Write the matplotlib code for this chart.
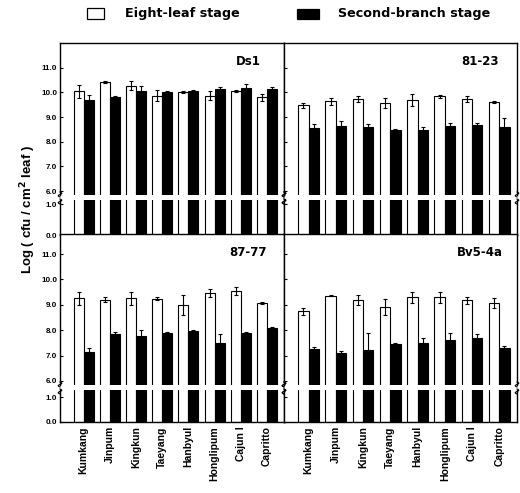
import numpy as np
import matplotlib.pyplot as plt

plt.rcParams['font.family'] = ['Liberation Sans', 'DejaVu Sans']
plt.rcParams['font.weight'] = 'bold'

cultivars = ["Kumkang", "Jinpum", "Kingkun", "Taeyang", "Hanbyul",
             "Honglipum", "Cajun I", "Capritto"]
strains = ["Ds1", "81-23", "87-77", "Bv5-4a"]

# eight-leaf stage (white) and second-branch stage (black), log cfu / cm2
ds1_eight = [10.04, 10.42, 10.27, 9.87, 10.01, 9.87, 10.04, 9.80]
ds1_eight_err = [0.25, 0.03, 0.18, 0.22, 0.04, 0.18, 0.04, 0.15]
ds1_second = [9.68, 9.82, 10.04, 10.01, 10.05, 10.13, 10.18, 10.13]
ds1_second_err = [0.22, 0.03, 0.20, 0.04, 0.04, 0.08, 0.15, 0.10]

s8123_eight = [9.47, 9.64, 9.73, 9.57, 9.70, 9.84, 9.73, 9.60]
s8123_eight_err = [0.10, 0.15, 0.12, 0.20, 0.25, 0.05, 0.12, 0.05]
s8123_second = [8.55, 8.65, 8.58, 8.49, 8.46, 8.65, 8.66, 8.60]
s8123_second_err = [0.15, 0.20, 0.12, 0.02, 0.15, 0.12, 0.08, 0.35]

s8777_eight = [9.26, 9.20, 9.26, 9.24, 8.99, 9.46, 9.55, 9.07]
s8777_eight_err = [0.25, 0.10, 0.25, 0.05, 0.40, 0.15, 0.15, 0.05]
s8777_second = [7.13, 7.84, 7.79, 7.90, 7.97, 7.49, 7.88, 8.08]
s8777_second_err = [0.15, 0.08, 0.20, 0.03, 0.03, 0.35, 0.03, 0.03]

bv54a_eight = [8.74, 9.36, 9.20, 8.91, 9.29, 9.29, 9.17, 9.07]
bv54a_eight_err = [0.15, 0.02, 0.20, 0.30, 0.20, 0.20, 0.12, 0.20]
bv54a_second = [7.25, 7.09, 7.22, 7.46, 7.51, 7.62, 7.68, 7.29]
bv54a_second_err = [0.08, 0.10, 0.65, 0.04, 0.20, 0.25, 0.15, 0.07]

data = {
    "Ds1": (ds1_eight, ds1_eight_err, ds1_second, ds1_second_err),
    "81-23": (s8123_eight, s8123_eight_err, s8123_second, s8123_second_err),
    "87-77": (s8777_eight, s8777_eight_err, s8777_second, s8777_second_err),
    "Bv5-4a": (bv54a_eight, bv54a_eight_err, bv54a_second, bv54a_second_err),
}

W, H = 520, 493
fig = plt.figure(figsize=(W / 100, H / 100), dpi=100)


def fbox(x0, x1, y0, y1):
    # pixel box (top-left origin) -> figure fraction rect
    return [x0 / W, 1 - y1 / H, (x1 - x0) / W, (y1 - y0) / H]


cols = [(60, 284), (284, 517)]
# (upper seg px, upper ylim, lower seg px, lower ylim)
rows = [((43, 195), (5.84, 12.0), (200, 235), (0, 1.13)),
        ((234, 385), (5.84, 11.79), (390, 422), (0, 1.28))]

x = np.arange(len(cultivars))
bw = 0.38
tick_font = dict(fontsize=5.8, fontweight='bold')


def squiggle(xp, yp):
    t = np.linspace(0, 1, 20)
    xs = xp + 1.8 * np.sin(t * 2 * np.pi)
    ys = yp - 2 + 5 * t
    fig.add_artist(plt.Line2D(xs / W, 1 - ys / H, color='black', lw=0.8))


for k, name in enumerate(strains):
    r, c = divmod(k, 2)
    (uy0, uy1), ulim, (ly0, ly1), llim = rows[r]
    cx0, cx1 = cols[c]
    eight, eight_err, second, second_err = data[name]
    ax_u = fig.add_axes(fbox(cx0, cx1, uy0, uy1))
    ax_l = fig.add_axes(fbox(cx0, cx1, ly0, ly1))
    for ax, lim in ((ax_u, ulim), (ax_l, llim)):
        ax.bar(x - bw / 2, eight, bw, color='white', edgecolor='black', linewidth=0.8)
        ax.bar(x + bw / 2, second, bw, color='black', edgecolor='black', linewidth=0.8)
        ax.errorbar(x - bw / 2, eight, yerr=eight_err, fmt='none', ecolor='black',
                    elinewidth=0.8, capsize=1.6, capthick=0.8)
        ax.errorbar(x + bw / 2, second, yerr=second_err, fmt='none', ecolor='black',
                    elinewidth=0.8, capsize=1.6, capthick=0.8)
        ax.set_xlim(-0.9, 7.65)
        ax.set_ylim(*lim)
        ax.tick_params(axis='y', direction='in', length=2.5, width=0.8, pad=2)
        ax.tick_params(axis='x', length=0)
        for s in ax.spines.values():
            s.set_linewidth(1.0)
    ax_u.spines['bottom'].set_visible(False)
    ax_l.spines['top'].set_visible(False)
    ax_u.set_xticks([])
    ax_u.set_yticks([6, 7, 8, 9, 10, 11])
    ax_l.set_yticks([0, 1])
    if c == 0:
        ax_u.set_yticklabels(["6.0", "7.0", "8.0", "9.0", "10.0", "11.0"], **tick_font)
        ax_l.set_yticklabels(["0.0", "1.0"], **tick_font)
    else:
        ax_u.set_yticklabels([])
        ax_l.set_yticklabels([])
    if r == 1:
        ax_l.set_xticks(x)
        ax_l.set_xticklabels(cultivars, rotation=90, fontsize=7.5, fontweight='bold')
        ax_l.tick_params(axis='x', pad=3)
    else:
        ax_l.set_xticks([])
    ax_u.text(0.84, 0.88, name, transform=ax_u.transAxes, ha='center', va='center',
              fontsize=8.5, fontweight='bold', family='DejaVu Sans')
    for xp in (cx0, cx1):
        squiggle(xp, uy1 - 1)
        squiggle(xp, ly0 + 1)

# y label
fig.text(28 / W, 1 - 210 / H, "Log ( cfu / cm$^{\\mathbf{2}}$ leaf )", rotation=90,
         ha='center', va='center', fontsize=9.5, fontweight='bold')

# legend
fig.patches.append(plt.Rectangle((87 / W, 1 - 19 / H), 17 / W, 11 / H, facecolor='white',
                                 edgecolor='black', lw=0.9, transform=fig.transFigure))
fig.text(125 / W, 1 - 13.5 / H, "Eight-leaf stage", ha='left', va='center',
         fontsize=9.2, fontweight='bold', family='DejaVu Sans')
fig.patches.append(plt.Rectangle((297 / W, 1 - 19 / H), 22 / W, 10 / H, facecolor='black',
                                 edgecolor='black', lw=0.9, transform=fig.transFigure))
fig.text(338 / W, 1 - 13.5 / H, "Second-branch stage", ha='left', va='center',
         fontsize=9.2, fontweight='bold', family='DejaVu Sans')

fig.savefig("out.png", dpi=100)
